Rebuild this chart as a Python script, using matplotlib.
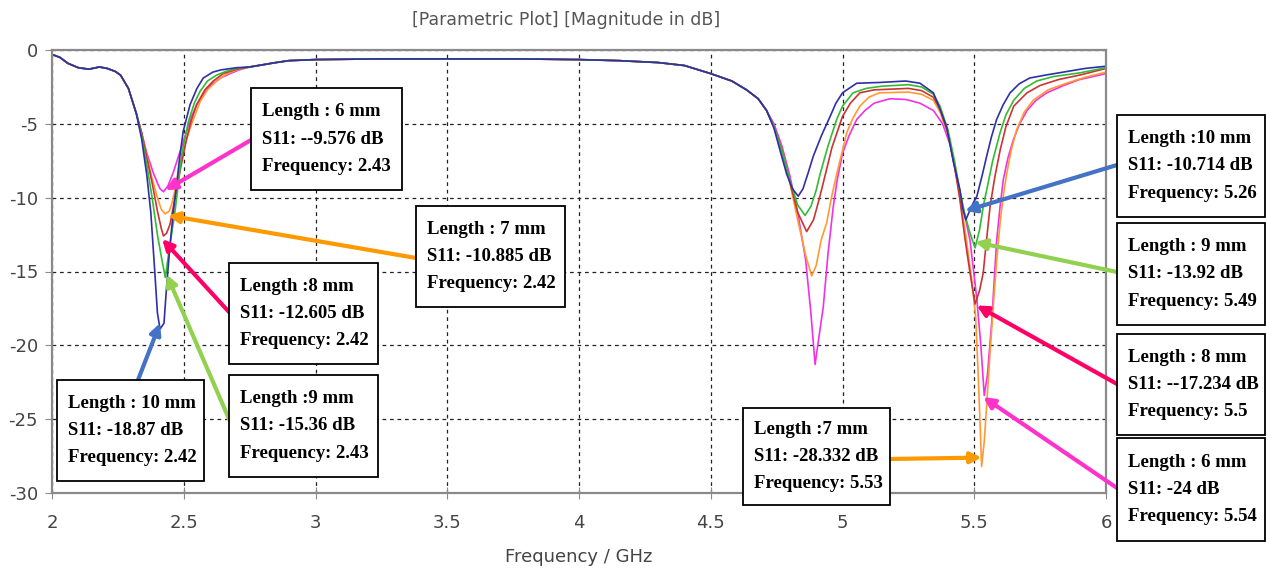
import matplotlib.pyplot as plt
from matplotlib.patches import Rectangle

plt.rcParams['axes.unicode_minus'] = False

# ---- data (frequency in GHz, S11 in dB) ----
# shared parts of all five traces
left_f = [2.00, 2.03, 2.06, 2.10, 2.14, 2.18, 2.21, 2.24, 2.26, 2.29, 2.32]
left_s = [-0.3, -0.5, -0.9, -1.2, -1.3, -1.15, -1.25, -1.45, -1.7, -2.6, -4.3]
mid_f = [2.75, 2.80, 2.85, 2.90, 3.00, 3.25, 3.50, 3.75, 4.00, 4.15, 4.30, 4.40,
         4.50, 4.58, 4.636, 4.68, 4.712]
mid_s = [-1.15, -1.0, -0.85, -0.72, -0.65, -0.6, -0.6, -0.6, -0.65, -0.72, -0.85, -1.05,
         -1.6, -2.1, -2.7, -3.3, -4.1]

# Length 10 mm
f10_a = [2.34, 2.36, 2.375, 2.39, 2.40, 2.41, 2.425, 2.435, 2.448, 2.46, 2.473, 2.485,
         2.498, 2.524, 2.55, 2.574, 2.61, 2.64, 2.70]
s10_a = [-6.0, -8.5, -11.0, -15.0, -17.8, -18.9, -18.5, -16.0, -13.2, -11.0, -9.1, -7.2,
         -5.5, -3.7, -2.6, -1.9, -1.5, -1.35, -1.2]
f10_b = [4.74, 4.763, 4.788, 4.81, 4.832, 4.85, 4.87, 4.889, 4.92, 4.953, 4.975, 5.0,
         5.054, 5.14, 5.24, 5.294, 5.345, 5.37, 5.395, 5.42, 5.446, 5.457, 5.468, 5.48,
         5.495, 5.51, 5.53, 5.547, 5.565, 5.585, 5.61, 5.636, 5.67, 5.71, 5.77, 5.837,
         5.92, 6.0]
s10_b = [-5.3, -6.8, -8.4, -9.4, -9.9, -9.4, -8.3, -7.2, -5.8, -4.5, -3.6, -2.9,
         -2.25, -2.2, -2.1, -2.25, -2.9, -4.0, -5.2, -7.5, -9.5, -10.8, -11.5, -11.0,
         -10.4, -9.9, -8.5, -7.2, -5.9, -4.7, -3.7, -2.9, -2.3, -1.9, -1.7, -1.5,
         -1.25, -1.1]

# Length 9 mm
f9_a = [2.34, 2.36, 2.38, 2.40, 2.415, 2.43, 2.445, 2.467, 2.48, 2.492, 2.517, 2.54,
        2.562, 2.59, 2.625, 2.66, 2.70]
s9_a = [-5.8, -7.8, -10.0, -12.5, -14.0, -15.4, -13.5, -10.9, -9.0, -7.1, -4.9, -3.6,
        -2.8, -2.1, -1.7, -1.45, -1.25]
f9_b = [4.74, 4.77, 4.80, 4.83, 4.858, 4.88, 4.90, 4.915, 4.945, 4.978, 5.0, 5.04,
        5.09, 5.15, 5.25, 5.30, 5.345, 5.37, 5.40, 5.425, 5.446, 5.465, 5.484, 5.503,
        5.52, 5.535, 5.547, 5.57, 5.598, 5.62, 5.65, 5.69, 5.737, 5.80, 5.90, 6.0]
s9_b = [-5.2, -6.8, -8.8, -10.5, -11.2, -10.6, -9.5, -8.4, -6.5, -4.7, -3.8, -2.9,
        -2.6, -2.45, -2.35, -2.5, -3.0, -3.8, -5.4, -7.5, -9.6, -11.2, -12.4, -13.4,
        -12.2, -10.5, -9.5, -7.5, -5.6, -4.4, -3.4, -2.6, -2.1, -1.8, -1.55, -1.2]

# Length 8 mm
f8_a = [2.34, 2.36, 2.38, 2.40, 2.415, 2.423, 2.435, 2.448, 2.465, 2.48, 2.511, 2.53,
        2.549, 2.58, 2.612, 2.65, 2.70]
s8_a = [-5.6, -7.3, -9.0, -10.9, -12.1, -12.6, -12.4, -11.8, -10.2, -8.7, -6.0, -4.7,
        -3.7, -2.7, -2.1, -1.6, -1.3]
f8_b = [4.74, 4.77, 4.80, 4.83, 4.864, 4.89, 4.91, 4.927, 4.96, 5.0, 5.03, 5.066,
        5.12, 5.25, 5.30, 5.345, 5.37, 5.40, 5.425, 5.446, 5.465, 5.484, 5.503, 5.52,
        5.534, 5.547, 5.56, 5.578, 5.598, 5.62, 5.65, 5.70, 5.75, 5.82, 5.90, 6.0]
s8_b = [-5.2, -6.8, -8.9, -11.0, -12.3, -11.5, -10.2, -9.0, -6.6, -4.5, -3.6, -2.9,
        -2.7, -2.6, -2.75, -3.2, -4.0, -5.6, -7.8, -10.2, -12.8, -15.1, -17.2, -16.3,
        -15.1, -12.8, -10.6, -8.6, -6.8, -5.2, -3.8, -2.9, -2.4, -2.0, -1.7, -1.25]

# Length 7 mm
f7_a = [2.34, 2.36, 2.38, 2.40, 2.415, 2.43, 2.445, 2.455, 2.47, 2.486, 2.505, 2.524,
        2.545, 2.562, 2.59, 2.625, 2.66, 2.70]
s7_a = [-5.6, -7.2, -8.7, -10.0, -10.8, -11.1, -10.9, -10.4, -9.2, -7.8, -6.4, -5.3,
        -4.3, -3.5, -2.7, -2.1, -1.65, -1.35]
f7_b = [4.74, 4.77, 4.80, 4.83, 4.86, 4.883, 4.90, 4.92, 4.94, 4.958, 4.978, 5.0,
        5.016, 5.04, 5.066, 5.10, 5.14, 5.25, 5.30, 5.345, 5.37, 5.40, 5.425, 5.446,
        5.47, 5.49, 5.505, 5.515, 5.522, 5.528, 5.538, 5.547, 5.56, 5.572, 5.585, 5.598,
        5.61, 5.623, 5.64, 5.661, 5.69, 5.724, 5.78, 5.85, 5.92, 6.0]
s7_b = [-5.2, -6.8, -9.0, -11.5, -13.9, -15.3, -14.6, -12.8, -11.7, -10.0, -8.4, -6.8,
        -5.6, -4.6, -3.8, -3.2, -2.9, -2.85, -3.0, -3.4, -4.2, -5.7, -7.8, -10.0,
        -12.8, -15.5, -18.0, -22.0, -25.3, -28.2, -26.5, -24.1, -20.5, -17.4, -14.3, -11.7,
        -9.9, -8.4, -6.8, -5.4, -4.2, -3.4, -2.7, -2.25, -1.85, -1.5]

# Length 6 mm
f6_a = [2.34, 2.36, 2.384, 2.40, 2.41, 2.423, 2.44, 2.46, 2.48, 2.495, 2.511, 2.53,
        2.549, 2.575, 2.60, 2.64, 2.676, 2.71]
s6_a = [-5.6, -7.0, -8.3, -9.0, -9.4, -9.6, -9.2, -8.3, -7.2, -6.4, -5.5, -4.5,
        -3.7, -3.0, -2.4, -1.9, -1.6, -1.35]
f6_b = [4.74, 4.77, 4.80, 4.83, 4.86, 4.88, 4.896, 4.91, 4.927, 4.945, 4.965, 4.98,
        5.0, 5.025, 5.054, 5.085, 5.12, 5.18, 5.24, 5.294, 5.345, 5.38, 5.41, 5.43,
        5.457, 5.484, 5.51, 5.525, 5.538, 5.55, 5.566, 5.576, 5.585, 5.598, 5.61, 5.628,
        5.648, 5.672, 5.70, 5.735, 5.775, 5.84, 5.90, 6.0]
s6_b = [-5.0, -6.5, -8.5, -11.0, -14.2, -17.8, -21.3, -19.5, -17.4, -13.8, -10.6, -8.8,
        -7.0, -5.8, -4.7, -4.1, -3.6, -3.3, -3.35, -3.6, -4.1, -5.0, -6.5, -8.4,
        -10.6, -12.9, -16.9, -20.0, -23.4, -22.0, -18.5, -15.5, -12.9, -10.6, -8.8, -7.3,
        -6.1, -5.0, -4.1, -3.4, -2.9, -2.4, -2.0, -1.6]

lengths = ['6 mm', '7 mm', '8 mm', '9 mm', '10 mm']
curve_colors = ['#f032e6', '#ff9a33', '#cc3333', '#33bb33', '#2f2fa8']
arrow_colors = {'6': '#ff33cc', '7': '#ff9900', '8': '#ff0066', '9': '#92d050', '10': '#4472c4'}

# annotation boxes: text, arrow colour key, arrow tip (GHz, dB)
box_texts = [
    'Length : 6 mm\nS11: --9.576 dB\nFrequency: 2.43',
    'Length : 7 mm\nS11: -10.885 dB\nFrequency: 2.42',
    'Length :8 mm\nS11: -12.605 dB\nFrequency: 2.42',
    'Length :9 mm\nS11: -15.36 dB\nFrequency: 2.43',
    'Length : 10 mm\nS11: -18.87 dB\nFrequency: 2.42',
    'Length :7 mm\nS11: -28.332 dB\nFrequency: 5.53',
    'Length :10 mm\nS11: -10.714 dB\nFrequency: 5.26',
    'Length : 9 mm\nS11: -13.92 dB\nFrequency: 5.49',
    'Length : 8 mm\nS11: --17.234 dB\nFrequency: 5.5',
    'Length : 6 mm\nS11: -24 dB\nFrequency: 5.54',
]
box_keys = ['6', '7', '8', '9', '10', '7', '10', '9', '8', '6']
tip_f = [2.43, 2.44, 2.418, 2.435, 2.41, 5.528, 5.465, 5.503, 5.509, 5.534]
tip_s = [-9.5, -11.2, -12.8, -15.2, -18.5, -27.6, -10.9, -13.0, -17.3, -23.5]

# ---- layout (image pixels, origin top-left) ----
W, H = 1267, 572
boxes_px = [(251, 88, 402, 190), (416, 206, 565, 307), (229, 263, 378, 364),
            (229, 375, 378, 477), (57, 380, 204, 481), (743, 408, 890, 505),
            (1117, 115, 1265, 217), (1117, 223, 1265, 325), (1117, 334, 1265, 435),
            (1117, 438, 1265, 541)]
arrow_start_px = [(251, 140), (416, 258), (229, 312), (229, 419), (138, 380),
                  (890, 459), (1117, 165), (1117, 272), (1117, 384), (1117, 488)]

fig = plt.figure(figsize=(W / 100, H / 100), dpi=100)
ax = fig.add_axes([52 / W, 1 - 493 / H, (1106 - 52) / W, (493 - 50) / H])

traces = [(f6_a, s6_a, f6_b, s6_b), (f7_a, s7_a, f7_b, s7_b), (f8_a, s8_a, f8_b, s8_b),
          (f9_a, s9_a, f9_b, s9_b), (f10_a, s10_a, f10_b, s10_b)]
for (fa, sa, fb, sb), col, lab in zip(traces, curve_colors, lengths):
    f = left_f + fa + mid_f + fb
    s = left_s + sa + mid_s + sb
    ax.plot(f, s, color=col, lw=1.2, label=lab, zorder=2)

ax.set_xlim(2, 6)
ax.set_ylim(-30, 0)
ax.set_xticks([2, 2.5, 3, 3.5, 4, 4.5, 5, 5.5, 6])
ax.set_xticklabels(['2', '2.5', '3', '3.5', '4', '4.5', '5', '5.5', '6'])
ax.set_yticks([0, -5, -10, -15, -20, -25, -30])
ax.grid(True, color='#222222', linestyle=(0, (3, 3)), lw=0.9)
for sp in ax.spines.values():
    sp.set_color('#8a8a8a')
    sp.set_linewidth(1.6)
ax.tick_params(axis='x', direction='inout', length=8, color='#8a8a8a', pad=11,
               labelsize=13, labelcolor='#444444')
ax.tick_params(axis='y', direction='out', length=5, color='#8a8a8a', pad=5,
               labelsize=13, labelcolor='#444444')
ax.set_xlabel('Frequency / GHz', fontsize=13, color='#444444', labelpad=12)
fig.text(566 / W, 1 - 20 / H, '[Parametric Plot] [Magnitude in dB]', ha='center',
         va='center', fontsize=12.5, color='#555555')

# arrows
for key, tf, ts, (sx, sy) in zip(box_keys, tip_f, tip_s, arrow_start_px):
    ax.annotate('', xy=(tf, ts), xycoords='data', xytext=(sx, H - sy),
                textcoords='figure pixels', annotation_clip=False,
                arrowprops=dict(arrowstyle='-|>', color=arrow_colors[key], lw=3,
                                mutation_scale=16, shrinkA=0, shrinkB=0))

# boxes
for txt, (x0, y0, x1, y1) in zip(box_texts, boxes_px):
    fig.add_artist(Rectangle((x0 / W, 1 - y1 / H), (x1 - x0) / W, (y1 - y0) / H,
                             transform=fig.transFigure, facecolor='white',
                             edgecolor='black', lw=1.3, zorder=5))
    fig.text((x0 + 11) / W, 1 - (y0 + y1) / 2 / H, txt, ha='left', va='center',
             fontsize=13.5, fontweight='bold', family='Liberation Serif',
             linespacing=1.8, zorder=6)

fig.savefig('out.png', dpi=100, facecolor='white')
